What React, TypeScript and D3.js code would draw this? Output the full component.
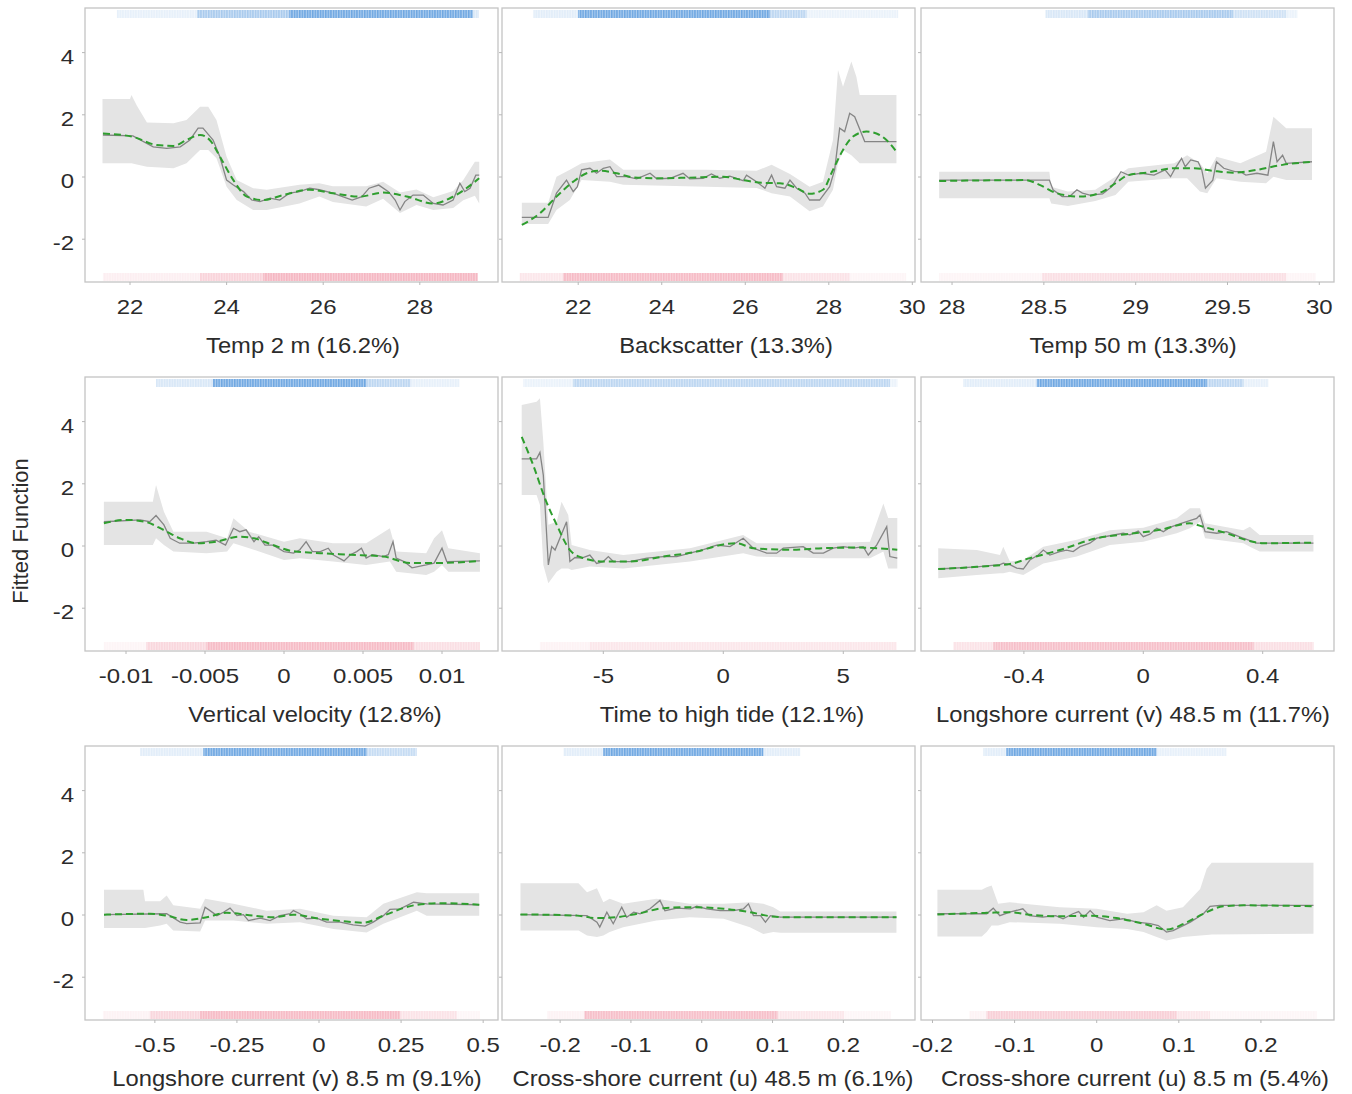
import React from 'react';
import * as d3 from 'd3';

// ---------- labels ----------
const titles = [
  'Temp 2 m (16.2%)',
  'Backscatter (13.3%)',
  'Temp 50 m (13.3%)',
  'Vertical velocity (12.8%)',
  'Time to high tide (12.1%)',
  'Longshore current (v) 48.5 m (11.7%)',
  'Longshore current (v) 8.5 m (9.1%)',
  'Cross-shore current (u) 48.5 m (6.1%)',
  'Cross-shore current (u) 8.5 m (5.4%)',
];
const yAxisLabel = 'Fitted Function';
const yTicks = [-2, 0, 2, 4];
const yDomain = [-3.376, 5.434];

const xDomains = [
  [21.068, 29.619],
  [20.175, 30.064],
  [27.831, 30.08],
  [-0.012595, 0.013544],
  [-9.221, 7.988],
  [-0.7447, 0.6389],
  [-0.7128, 0.5452],
  [-0.2821, 0.3012],
  [-0.214, 0.289],
];
const xTicks = [
  [22, 24, 26, 28],
  [22, 24, 26, 28, 30],
  [28, 28.5, 29, 29.5, 30],
  [-0.01, -0.005, 0, 0.005, 0.01],
  [-5, 0, 5],
  [-0.4, 0, 0.4],
  [-0.5, -0.25, 0, 0.25, 0.5],
  [-0.2, -0.1, 0, 0.1, 0.2],
  [-0.2, -0.1, 0, 0.1, 0.2],
];

// ---------- panel 1: Temp 2 m ----------
const p1Line = [[21.44,1.35],[22.06,1.32],[22.48,0.97],[22.76,0.92],[23.04,0.97],[23.24,1.19],[23.41,1.57],[23.51,1.57],[23.72,1.19],[23.86,0.65],[24.0,-0.1],[24.14,-0.26],[24.35,-0.47],[24.52,-0.74],[24.69,-0.79],[24.9,-0.68],[25.1,-0.74],[25.3,-0.52],[25.51,-0.47],[25.72,-0.36],[25.92,-0.41],[26.2,-0.52],[26.4,-0.63],[26.6,-0.74],[26.8,-0.63],[26.95,-0.36],[27.15,-0.26],[27.35,-0.47],[27.49,-0.74],[27.59,-1.06],[27.69,-0.79],[27.86,-0.58],[28.07,-0.58],[28.28,-0.85],[28.48,-0.9],[28.69,-0.74],[28.83,-0.2],[28.93,-0.47],[29.04,-0.36],[29.16,0.06],[29.23,0.06]];
const p1Smooth = [[21.44,1.4],[22.06,1.29],[22.55,1.03],[22.9,1.0],[23.17,1.19],[23.45,1.35],[23.65,1.19],[23.9,0.55],[24.14,-0.1],[24.42,-0.63],[24.76,-0.74],[25.17,-0.58],[25.72,-0.41],[26.2,-0.52],[26.76,-0.63],[27.24,-0.5],[27.73,-0.63],[28.28,-0.85],[28.69,-0.63],[29.23,-0.04]];
const p1Band = [[21.43,0.44,2.51],[22.0,0.44,2.51],[22.03,0.44,2.64],[22.14,0.4,2.3],[22.35,0.33,1.75],[22.9,0.28,1.73],[23.17,0.44,1.83],[23.45,0.87,2.26],[23.62,0.87,2.26],[23.79,0.6,1.83],[24.0,-0.31,0.65],[24.21,-0.74,-0.1],[24.55,-1.06,-0.36],[24.83,-1.06,-0.41],[25.51,-0.85,-0.25],[25.92,-0.63,-0.2],[26.2,-0.8,-0.3],[26.89,-0.95,-0.3],[27.24,-0.7,-0.15],[27.59,-1.16,-0.5],[27.93,-0.9,-0.4],[28.28,-1.06,-0.65],[28.69,-1.0,-0.45],[28.9,-0.75,-0.1],[29.14,-0.6,0.49],[29.23,-0.85,0.49]];
const p1RugTop = [[21.73,23.39,0.12],[23.39,25.3,0.45],[25.3,29.1,0.75],[29.1,29.22,0.2]];
const p1RugBottom = [[21.44,23.45,0.2],[23.45,24.76,0.55],[24.76,29.2,0.9]];

// ---------- panel 2: Backscatter ----------
const p2Line = [[20.65,-1.3],[21.28,-1.3],[21.48,-0.52],[21.72,-0.1],[21.88,-0.47],[21.98,-0.31],[22.08,0.23],[22.28,0.28],[22.44,0.12],[22.6,0.28],[22.76,0.33],[22.92,0.01],[23.16,0.01],[23.4,-0.06],[23.72,0.12],[23.88,-0.06],[24.2,-0.04],[24.51,0.12],[24.67,-0.06],[24.99,-0.04],[25.19,0.1],[25.39,-0.04],[25.63,0.03],[25.95,-0.12],[26.03,0.06],[26.27,-0.15],[26.47,-0.36],[26.63,0.06],[26.75,-0.31],[26.95,-0.36],[27.07,-0.1],[27.23,-0.36],[27.43,-0.52],[27.54,-0.74],[27.78,-0.74],[28.02,-0.31],[28.14,0.23],[28.26,1.57],[28.38,1.46],[28.5,2.05],[28.62,1.94],[28.86,1.14],[29.62,1.14]];
const p2Smooth = [[20.65,-1.54],[21.08,-1.17],[21.48,-0.63],[21.88,-0.15],[22.2,0.12],[22.52,0.2],[22.92,0.12],[23.32,-0.01],[23.88,-0.04],[24.67,-0.02],[25.47,0.01],[25.95,-0.1],[26.43,-0.19],[26.83,-0.2],[27.23,-0.36],[27.54,-0.54],[27.86,-0.41],[28.1,0.23],[28.34,0.87],[28.58,1.3],[28.9,1.46],[29.14,1.4],[29.38,1.19],[29.62,0.81]];
const p2Band = [[20.65,-1.51,-0.83],[21.28,-1.51,-0.83],[21.48,-1.06,0.01],[21.8,-0.74,0.23],[22.08,-0.1,0.44],[22.76,-0.15,0.56],[23.08,-0.25,0.23],[25.07,-0.31,0.23],[26.27,-0.35,0.2],[26.63,-0.52,0.39],[27.07,-0.63,0.1],[27.54,-1.1,-0.31],[27.86,-0.95,-0.15],[28.1,-0.41,1.19],[28.22,0.44,3.44],[28.34,0.87,2.9],[28.54,0.7,3.71],[28.66,0.55,3.22],[28.74,0.44,2.64],[29.62,0.44,2.64]];
const p2RugTop = [[20.93,22.0,0.15],[22.0,26.59,0.75],[26.59,27.46,0.35],[27.46,29.66,0.1]];
const p2RugBottom = [[20.6,21.64,0.3],[21.64,26.9,0.85],[26.9,28.5,0.35],[28.5,29.85,0.12]];

// ---------- panel 3: Temp 50 m ----------
const p3Line = [[27.93,-0.1],[28.53,-0.1],[28.55,-0.41],[28.6,-0.63],[28.64,-0.63],[28.68,-0.41],[28.71,-0.52],[28.75,-0.58],[28.82,-0.54],[28.87,-0.31],[28.92,0.17],[28.96,0.06],[29.03,0.12],[29.1,0.06],[29.16,0.23],[29.19,0.01],[29.21,0.23],[29.25,0.6],[29.27,0.33],[29.3,0.55],[29.34,0.49],[29.36,0.23],[29.38,-0.36],[29.42,-0.1],[29.44,0.49],[29.48,0.28],[29.54,0.17],[29.57,0.17],[29.6,0.06],[29.66,0.12],[29.72,0.06],[29.75,1.14],[29.77,0.49],[29.8,0.7],[29.82,0.44],[29.96,0.49]];
const p3Smooth = [[27.93,-0.13],[28.4,-0.1],[28.48,-0.26],[28.57,-0.52],[28.7,-0.63],[28.82,-0.47],[28.89,-0.2],[28.96,0.06],[29.06,0.14],[29.21,0.28],[29.32,0.28],[29.42,0.2],[29.53,0.14],[29.66,0.23],[29.8,0.39],[29.96,0.49]];
const p3Band = [[27.93,-0.68,0.17],[28.53,-0.68,0.17],[28.54,-0.85,-0.31],[28.63,-0.93,-0.47],[28.78,-0.77,-0.41],[28.89,-0.58,0.01],[28.96,-0.15,0.28],[29.21,-0.04,0.44],[29.28,-0.04,0.7],[29.35,-0.47,0.44],[29.39,-0.52,0.12],[29.44,-0.04,0.65],[29.57,-0.15,0.44],[29.71,-0.2,0.81],[29.75,0.01,1.94],[29.82,-0.1,1.57],[29.96,-0.1,1.57]];
const p3RugTop = [[28.51,28.74,0.2],[28.74,29.53,0.45],[29.53,29.82,0.25],[29.82,29.88,0.1]];
const p3RugBottom = [[27.93,28.49,0.12],[28.49,29.82,0.4],[29.82,29.98,0.12]];

// ---------- panel 4: Vertical velocity ----------
const p4Line = [[-0.0114,0.78],[-0.0091,0.84],[-0.0085,0.78],[-0.0081,0.98],[-0.0076,0.68],[-0.0072,0.25],[-0.0066,0.09],[-0.0057,0.09],[-0.0049,0.14],[-0.0043,0.19],[-0.0037,0.03],[-0.0032,0.57],[-0.0028,0.46],[-0.0024,0.52],[-0.0019,0.14],[-0.0016,0.3],[-0.0012,0.03],[-0.0007,0.03],[0,-0.18],[0.0006,-0.23],[0.001,-0.12],[0.0014,0.14],[0.0018,-0.18],[0.0023,-0.18],[0.0028,-0.07],[0.0031,-0.28],[0.0038,-0.48],[0.0042,-0.28],[0.0046,-0.18],[0.0049,-0.07],[0.0052,-0.39],[0.0056,-0.28],[0.0063,-0.34],[0.0066,-0.28],[0.0069,0.14],[0.0071,-0.39],[0.0076,-0.5],[0.0081,-0.7],[0.009,-0.61],[0.0095,-0.55],[0.01,-0.07],[0.0103,-0.5],[0.0124,-0.48]];
const p4Smooth = [[-0.0114,0.73],[-0.01,0.84],[-0.0088,0.78],[-0.0076,0.51],[-0.0066,0.25],[-0.0055,0.09],[-0.0043,0.14],[-0.0028,0.3],[-0.0019,0.25],[-0.0007,0.03],[0.0006,-0.17],[0.0023,-0.23],[0.0042,-0.28],[0.0063,-0.34],[0.008,-0.55],[0.0095,-0.55],[0.0124,-0.48]];
const p4Band = [[-0.0114,0.03,1.42],[-0.0083,0.03,1.42],[-0.0081,0.25,1.96],[-0.0076,0.03,1.1],[-0.007,-0.18,0.46],[-0.0049,-0.23,0.46],[-0.0036,-0.18,0.25],[-0.0032,0.09,0.89],[-0.0022,-0.07,0.46],[0.0,-0.45,0.14],[0.001,-0.39,0.25],[0.0031,-0.5,0.09],[0.0052,-0.61,0.09],[0.0067,-0.5,0.57],[0.0071,-0.83,-0.18],[0.009,-0.93,-0.23],[0.0095,-0.83,0.25],[0.01,-0.61,0.51],[0.0104,-0.83,-0.07],[0.0124,-0.83,-0.23]];
const p4RugTop = [[-0.0081,-0.0045,0.2],[-0.0045,0.0052,0.75],[0.0052,0.008,0.35],[0.008,0.0111,0.12]];
const p4RugBottom = [[-0.0114,-0.0087,0.12],[-0.0087,-0.0049,0.5],[-0.0049,0.0082,0.85],[0.0082,0.0124,0.4]];

// ---------- panel 5: Time to high tide ----------
const p5Line = [[-8.4,2.8],[-7.78,2.8],[-7.64,3.01],[-7.5,2.28],[-7.29,-0.61],[-7.15,-0.02],[-7.01,-0.13],[-6.53,0.78],[-6.39,-0.5],[-6.18,-0.37],[-5.9,-0.39],[-5.56,-0.29],[-5.28,-0.56],[-5.0,-0.5],[-4.79,-0.34],[-4.58,-0.5],[-3.89,-0.5],[-3.19,-0.39],[-2.5,-0.34],[-1.94,-0.34],[-1.39,-0.23],[-0.83,-0.12],[-0.28,0.03],[0.28,-0.02],[0.83,0.25],[1.25,-0.07],[1.81,-0.23],[2.22,-0.23],[2.5,-0.07],[3.33,-0.02],[3.75,-0.23],[4.17,-0.23],[4.58,-0.07],[5.0,-0.02],[5.42,-0.07],[5.83,-0.02],[6.04,-0.29],[6.39,0.03],[6.81,0.62],[6.94,-0.34],[7.25,-0.39]];
const p5Smooth = [[-8.4,3.51],[-7.92,2.6],[-7.43,1.53],[-6.94,0.68],[-6.39,-0.13],[-5.83,-0.39],[-5.0,-0.5],[-3.89,-0.5],[-2.5,-0.34],[-1.11,-0.18],[0.0,0.05],[0.56,0.09],[1.25,-0.07],[2.78,-0.12],[4.17,-0.07],[5.56,-0.05],[7.25,-0.12]];
const p5Band = [[-8.4,1.64,4.53],[-7.78,1.64,4.64],[-7.64,1.32,4.75],[-7.5,-0.61,3.35],[-7.29,-1.2,0.68],[-6.94,-0.83,0.78],[-6.74,-0.72,1.42],[-6.46,-0.72,1.0],[-6.32,-0.77,0.03],[-5.56,-0.66,-0.13],[-4.17,-0.72,-0.29],[-1.39,-0.5,-0.07],[0.83,-0.23,0.35],[1.39,-0.34,0.09],[4.17,-0.39,0.09],[6.11,-0.39,0.14],[6.67,-0.18,1.37],[6.87,-0.72,0.9],[7.25,-0.72,0.9]];
const p5RugTop = [[-8.33,-6.25,0.1],[-6.25,6.94,0.35],[6.94,7.25,0.1]];
const p5RugBottom = [[-7.64,-5.56,0.15],[-5.56,7.22,0.3]];

// ---------- panel 6: Longshore current (v) 48.5 m ----------
const p6Line = [[-0.687,-0.74],[-0.558,-0.67],[-0.48,-0.6],[-0.469,-0.55],[-0.447,-0.6],[-0.424,-0.71],[-0.402,-0.74],[-0.38,-0.45],[-0.352,-0.29],[-0.335,-0.13],[-0.313,-0.29],[-0.28,-0.18],[-0.257,-0.13],[-0.235,-0.18],[-0.212,-0.02],[-0.179,0.09],[-0.156,0.25],[-0.112,0.33],[-0.067,0.41],[-0.045,0.36],[-0.017,0.48],[0,0.3],[0.022,0.38],[0.045,0.57],[0.067,0.46],[0.089,0.6],[0.112,0.68],[0.145,0.78],[0.179,0.89],[0.19,1.0],[0.207,0.46],[0.246,0.41],[0.279,0.46],[0.307,0.36],[0.335,0.25],[0.38,0.09],[0.57,0.09]];
const p6Smooth = [[-0.687,-0.74],[-0.558,-0.67],[-0.447,-0.58],[-0.38,-0.39],[-0.28,-0.13],[-0.156,0.25],[-0.056,0.38],[0.056,0.52],[0.156,0.73],[0.2,0.62],[0.279,0.41],[0.357,0.16],[0.402,0.09],[0.57,0.11]];
const p6Band = [[-0.687,-1.04,-0.07],[-0.558,-0.93,-0.13],[-0.48,-0.88,-0.29],[-0.469,-0.88,-0.02],[-0.447,-0.83,-0.5],[-0.402,-0.93,-0.45],[-0.335,-0.56,-0.02],[-0.223,-0.34,0.2],[-0.112,0.03,0.51],[0,0.14,0.59],[0.112,0.41,0.89],[0.156,0.57,1.21],[0.19,0.78,1.21],[0.207,0.25,0.73],[0.335,0.09,0.51],[0.357,-0.02,0.62],[0.39,-0.18,0.35],[0.57,-0.18,0.35]];
const p6RugTop = [[-0.603,-0.357,0.15],[-0.357,0.213,0.75],[0.213,0.335,0.35],[0.335,0.419,0.12]];
const p6RugBottom = [[-0.636,-0.502,0.35],[-0.502,0.369,0.8],[0.369,0.57,0.4]];

// ---------- panel 7: Longshore current (v) 8.5 m ----------
const p7Line = [[-0.655,0.01],[-0.464,0.04],[-0.423,-0.23],[-0.403,-0.28],[-0.362,-0.25],[-0.347,0.25],[-0.332,0.14],[-0.311,-0.02],[-0.291,0.09],[-0.271,0.22],[-0.25,-0.02],[-0.23,0.01],[-0.215,-0.18],[-0.179,-0.1],[-0.149,-0.18],[-0.119,-0.02],[-0.088,0.04],[-0.078,0.14],[-0.058,0.04],[-0.038,-0.12],[-0.007,-0.1],[0.023,-0.23],[0.064,-0.23],[0.104,-0.32],[0.14,-0.36],[0.165,-0.23],[0.196,-0.02],[0.216,0.18],[0.247,0.2],[0.288,0.41],[0.328,0.36],[0.488,0.33]];
const p7Smooth = [[-0.655,0.01],[-0.515,0.04],[-0.464,-0.02],[-0.403,-0.16],[-0.342,-0.07],[-0.281,0.07],[-0.2,-0.02],[-0.139,-0.07],[-0.078,0.01],[0.003,-0.12],[0.084,-0.21],[0.135,-0.25],[0.196,-0.02],[0.288,0.31],[0.369,0.38],[0.488,0.33]];
const p7Band = [[-0.655,-0.42,0.81],[-0.535,-0.42,0.81],[-0.53,-0.42,0.44],[-0.484,-0.34,0.44],[-0.464,-0.28,0.63],[-0.444,-0.5,0.31],[-0.362,-0.53,0.2],[-0.347,-0.18,0.52],[-0.261,-0.18,0.36],[-0.159,-0.28,0.14],[-0.058,-0.23,0.2],[0.044,-0.45,-0.02],[0.145,-0.56,-0.07],[0.196,-0.28,0.36],[0.298,0.14,0.73],[0.328,-0.02,0.7],[0.488,-0.02,0.7]];
const p7RugTop = [[-0.545,-0.352,0.15],[-0.352,0.145,0.75],[0.145,0.297,0.3]];
const p7RugBottom = [[-0.658,-0.515,0.15],[-0.515,-0.362,0.5],[-0.362,0.247,0.85],[0.247,0.419,0.35],[0.419,0.49,0.1]];

// ---------- panel 8: Cross-shore current (u) 48.5 m ----------
const p8Line = [[-0.256,0.01],[-0.162,-0.02],[-0.148,-0.23],[-0.144,-0.39],[-0.134,0.09],[-0.125,-0.28],[-0.113,0.25],[-0.106,-0.07],[-0.096,0.09],[-0.087,0.04],[-0.073,0.2],[-0.059,0.47],[-0.052,0.14],[-0.035,0.22],[-0.016,0.2],[-0.007,0.28],[0.007,0.2],[0.026,0.14],[0.045,0.14],[0.059,0.2],[0.066,0.36],[0.073,-0.02],[0.083,-0.02],[0.09,-0.23],[0.097,-0.02],[0.111,-0.07],[0.275,-0.07]];
const p8Smooth = [[-0.256,0.02],[-0.176,-0.02],[-0.148,-0.1],[-0.12,-0.07],[-0.087,0.06],[-0.054,0.22],[-0.016,0.25],[0.031,0.2],[0.068,0.09],[0.097,-0.04],[0.116,-0.07],[0.275,-0.07]];
const p8Band = [[-0.256,-0.5,1.02],[-0.174,-0.5,1.02],[-0.162,-0.66,0.73],[-0.148,-0.71,0.86],[-0.139,-0.66,0.41],[-0.13,-0.55,0.52],[-0.111,-0.39,0.36],[-0.064,-0.18,0.52],[-0.017,-0.07,0.36],[0.031,-0.12,0.36],[0.068,-0.39,0.41],[0.087,-0.61,0.36],[0.101,-0.55,0.25],[0.111,-0.57,0.11],[0.275,-0.57,0.11]];
const p8RugTop = [[-0.195,-0.139,0.15],[-0.139,0.087,0.75],[0.087,0.139,0.15]];
const p8RugBottom = [[-0.218,-0.166,0.15],[-0.166,0.107,0.8],[0.107,0.201,0.3],[0.201,0.267,0.1]];

// ---------- panel 9: Cross-shore current (u) 8.5 m ----------
const p9Line = [[-0.194,0.04],[-0.134,0.04],[-0.126,0.22],[-0.118,-0.02],[-0.106,0.09],[-0.09,0.2],[-0.082,-0.02],[-0.066,-0.07],[-0.05,-0.02],[-0.041,-0.12],[-0.029,0.04],[-0.022,0.11],[-0.016,-0.07],[-0.008,0.14],[0.0,-0.07],[0.016,-0.18],[0.032,-0.12],[0.049,-0.23],[0.065,-0.28],[0.075,-0.34],[0.085,-0.55],[0.093,-0.5],[0.114,-0.23],[0.13,0.04],[0.138,0.28],[0.15,0.31],[0.264,0.31]];
const p9Smooth = [[-0.194,0.02],[-0.134,0.07],[-0.106,0.09],[-0.082,0.01],[-0.045,-0.04],[-0.008,-0.02],[0.024,-0.1],[0.057,-0.28],[0.085,-0.47],[0.11,-0.23],[0.13,0.04],[0.154,0.28],[0.179,0.31],[0.264,0.28]];
const p9Band = [[-0.194,-0.69,0.81],[-0.14,-0.69,0.81],[-0.134,-0.55,0.89],[-0.128,-0.34,0.95],[-0.12,-0.34,0.36],[-0.106,-0.23,0.41],[-0.045,-0.28,0.25],[0,-0.39,0.2],[0.037,-0.45,0.04],[0.057,-0.55,0.09],[0.073,-0.71,0.31],[0.085,-0.82,0.14],[0.105,-0.71,0.25],[0.126,-0.66,0.84],[0.134,-0.64,1.49],[0.14,-0.63,1.68],[0.264,-0.6,1.68]];
const p9RugTop = [[-0.138,-0.11,0.15],[-0.11,0.073,0.75],[0.073,0.158,0.12]];
const p9RugBottom = [[-0.155,-0.134,0.15],[-0.134,0.097,0.6],[0.097,0.138,0.3],[0.138,0.268,0.1]];

const lines = [p1Line, p2Line, p3Line, p4Line, p5Line, p6Line, p7Line, p8Line, p9Line];
const smooths = [p1Smooth, p2Smooth, p3Smooth, p4Smooth, p5Smooth, p6Smooth, p7Smooth, p8Smooth, p9Smooth];
const bands = [p1Band, p2Band, p3Band, p4Band, p5Band, p6Band, p7Band, p8Band, p9Band];
const rugTops = [p1RugTop, p2RugTop, p3RugTop, p4RugTop, p5RugTop, p6RugTop, p7RugTop, p8RugTop, p9RugTop];
const rugBottoms = [p1RugBottom, p2RugBottom, p3RugBottom, p4RugBottom, p5RugBottom, p6RugBottom, p7RugBottom, p8RugBottom, p9RugBottom];

// ---------- layout ----------
const COLS = [[85, 498], [502, 915], [921, 1334]];
const ROW_TOPS = [8, 377, 746];
const PANEL_H = 274;
const TITLE_X = [303, 726, 1133, 315, 732, 1133, 297, 713, 1135];
const TITLE_DY = [71, 71, 66];
const FONT = "'Liberation Sans', Arial, Helvetica, sans-serif";
const TEXT = '#2b2b2b';
const BORDER = '#c4c4c4';
const BAND = '#e4e4e4';
const LINE = '#858585';
const GREEN = '#2f9e2f';
const BLUE = '#3f8ad8';
const PINK = '#f5aebb';

function Panel({ i }: { i: number }) {
  const col = i % 3;
  const row = Math.floor(i / 3);
  const [left, right] = COLS[col];
  const top = ROW_TOPS[row];
  const bottom = top + PANEL_H;
  const x = d3.scaleLinear().domain(xDomains[i]).range([left, right]);
  const y = d3.scaleLinear().domain(yDomain).range([bottom, top]);

  const area = d3.area<number[]>().x(d => x(d[0])).y0(d => y(d[1])).y1(d => y(d[2]));
  const line = d3.line<number[]>().x(d => x(d[0])).y(d => y(d[1]));
  const smooth = d3.line<number[]>().x(d => x(d[0])).y(d => y(d[1])).curve(d3.curveMonotoneX);

  return (
    <g>
      <rect x={left} y={top} width={right - left} height={PANEL_H} fill="#ffffff" />
      <path d={area(bands[i]) || ''} fill={BAND} />
      <path d={line(lines[i]) || ''} fill="none" stroke={LINE} strokeWidth={1.3} />
      <path d={smooth(smooths[i]) || ''} fill="none" stroke={GREEN} strokeWidth={2} strokeDasharray="7,4" />
      {rugTops[i].map((s, k) => (
        <g key={'t' + k} opacity={s[2]}>
          <rect x={x(s[0])} y={top + 2} width={x(s[1]) - x(s[0])} height={8} fill={BLUE} opacity={0.55} />
          <rect x={x(s[0])} y={top + 2} width={x(s[1]) - x(s[0])} height={8} fill="url(#stripeBlue)" />
        </g>
      ))}
      {rugBottoms[i].map((s, k) => (
        <g key={'b' + k} opacity={s[2]}>
          <rect x={x(s[0])} y={bottom - 9} width={x(s[1]) - x(s[0])} height={8} fill={PINK} opacity={0.6} />
          <rect x={x(s[0])} y={bottom - 9} width={x(s[1]) - x(s[0])} height={8} fill="url(#stripePink)" />
        </g>
      ))}
      <rect x={left} y={top} width={right - left} height={PANEL_H} fill="none" stroke={BORDER} strokeWidth={1.3} />
      {yTicks.map(t => (
        <line key={'yt' + t} x1={left - 3} x2={left} y1={y(t)} y2={y(t)} stroke="#b8b8b8" strokeWidth={1} />
      ))}
      {xTicks[i].map(t => (
        <line key={'xt' + t} x1={x(t)} x2={x(t)} y1={bottom} y2={bottom + 3} stroke="#b8b8b8" strokeWidth={1} />
      ))}
      {xTicks[i].map(t => (
        <text
          key={'xl' + t}
          transform={`translate(${x(t)},${bottom + 31.5}) scale(1.2,1)`}
          textAnchor="middle"
          fontSize={20}
          fontFamily={FONT}
          fill={TEXT}
        >
          {String(t)}
        </text>
      ))}
      {col === 0 &&
        yTicks.map(t => (
          <text
            key={'yl' + t}
            transform={`translate(74,${y(t) + 11}) scale(1.2,1)`}
            textAnchor="end"
            fontSize={20}
            fontFamily={FONT}
            fill={TEXT}
          >
            {String(t)}
          </text>
        ))}
      <text
        transform={`translate(${TITLE_X[i]},${bottom + TITLE_DY[row]}) scale(1.08,1)`}
        textAnchor="middle"
        fontSize={22}
        fontFamily={FONT}
        fill={TEXT}
      >
        {titles[i]}
      </text>
    </g>
  );
}

export default function App() {
  return (
    <svg
      width={1352}
      height={1094}
      viewBox="0 0 1352 1094"
      style={{ position: 'absolute', left: 0, top: 0, background: '#ffffff' }}
    >
      <defs>
        <pattern id="stripeBlue" patternUnits="userSpaceOnUse" width={2.6} height={10}>
          <rect x={0} y={0} width={1.5} height={10} fill={BLUE} />
        </pattern>
        <pattern id="stripePink" patternUnits="userSpaceOnUse" width={2.6} height={10}>
          <rect x={0} y={0} width={1.5} height={10} fill={PINK} />
        </pattern>
      </defs>
      <rect x={0} y={0} width={1352} height={1094} fill="#ffffff" />
      {titles.map((_, i) => (
        <Panel key={i} i={i} />
      ))}
      <text
        transform="translate(20,531) rotate(-90)"
        textAnchor="middle"
        dominantBaseline="central"
        fontSize={22}
        fontFamily={FONT}
        fill={TEXT}
      >
        {yAxisLabel}
      </text>
    </svg>
  );
}
